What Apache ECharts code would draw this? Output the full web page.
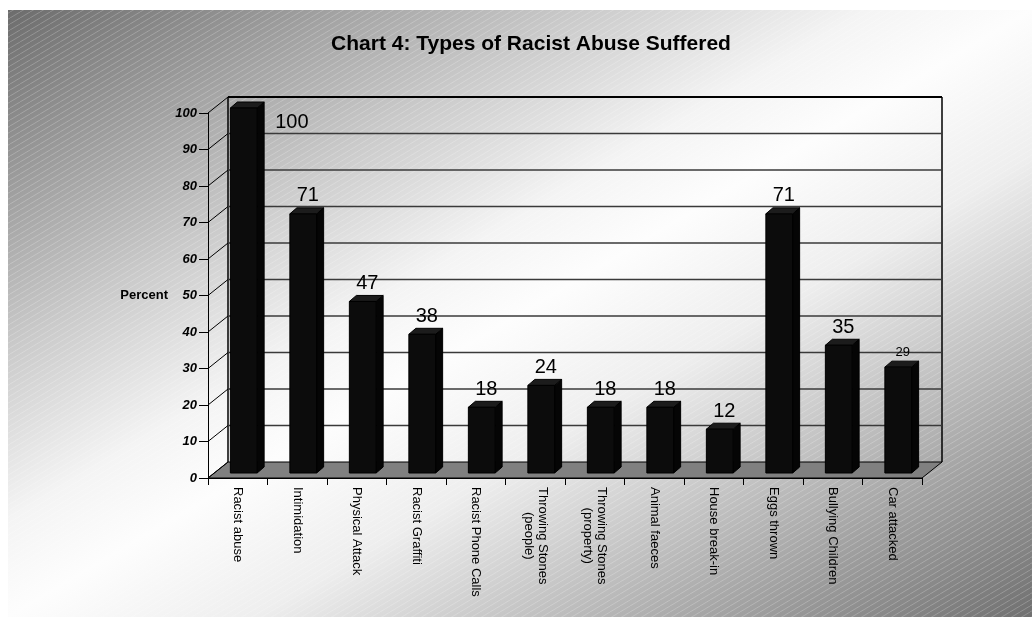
<!DOCTYPE html>
<html>
<head>
<meta charset="utf-8">
<script src="https://cdn.jsdelivr.net/npm/echarts@6/dist/echarts.min.js"></script>
<style>
  html, body { margin: 0; padding: 0; background: #ffffff; }
  #chart { width: 1032px; height: 617px; }
</style>
</head>
<body>
<div id="chart"></div>
<script>
// ---- data ----
const categories = [
  'Racist abuse', 'Intimidation', 'Physical Attack', 'Racist Graffiti',
  'Racist Phone Calls', 'Throwing Stones\n(people)', 'Throwing Stones\n(property)',
  'Animal faeces', 'House break-in', 'Eggs thrown', 'Bullying Children', 'Car attacked'
];
const percentValues = [100, 71, 47, 38, 18, 24, 18, 18, 12, 71, 35, 29];
const yTicks = [0, 10, 20, 30, 40, 50, 60, 70, 80, 90, 100];
const titleText = 'Chart 4: Types of Racist Abuse Suffered';
const yAxisName = 'Percent';

// ---- styling constants ----
const FONT = '"Liberation Sans", Arial, sans-serif';
const WALL_DX = 20, WALL_DY = -16;      // depth offset of back wall
const BAR_FX = 6, BAR_FY = -5;          // bar front face offset
const BAR_DX = 7, BAR_DY = -6;          // bar depth
const BAR_RATIO = 0.45;

// stripe pattern for the background
const stripe = document.createElement('canvas');
stripe.width = 10; stripe.height = 6;
(function () {
  const c = stripe.getContext('2d');
  c.strokeStyle = 'rgba(255,255,255,0.22)';
  c.lineWidth = 1;
  c.beginPath(); c.moveTo(0, 6); c.lineTo(10, 0); c.stroke();
})();

function renderFrame(params, api) {
  const cs = params.coordSys;
  const v = api.value(1);
  const y = api.coord([0, v])[1];
  const L = cs.x, R = cs.x + cs.width;
  const ch = [];
  if (v === 0) {
    const yTop = api.coord([0, yTicks[yTicks.length - 1]])[1];
    ch.push({
      type: 'polygon',
      shape: { points: [[L, y], [R, y], [R + WALL_DX, y + WALL_DY], [L + WALL_DX, y + WALL_DY]] },
      style: { fill: '#808080', stroke: '#000', lineWidth: 1 }
    });
    ch.push({ type: 'line', shape: { x1: L + WALL_DX, y1: yTop + WALL_DY, x2: L + WALL_DX, y2: y + WALL_DY },
      style: { stroke: '#000', lineWidth: 1.5 } });
    ch.push({ type: 'line', shape: { x1: R + WALL_DX, y1: yTop + WALL_DY, x2: R + WALL_DX, y2: y + WALL_DY },
      style: { stroke: '#000', lineWidth: 1.5 } });
  } else {
    ch.push({ type: 'line', shape: { x1: L + WALL_DX, y1: y + WALL_DY, x2: R + WALL_DX, y2: y + WALL_DY },
      style: { stroke: v === 100 ? '#000' : '#3a3a3a', lineWidth: v === 100 ? 2 : 1.5 } });
  }
  ch.push({ type: 'line', shape: { x1: L, y1: y, x2: L + WALL_DX, y2: y + WALL_DY },
    style: { stroke: '#000', lineWidth: 1 } });
  return { type: 'group', children: ch };
}

function renderBar(params, api) {
  const i = api.value(0);
  const v = api.value(1);
  const top = api.coord([i, v]);
  const base = api.coord([i, 0]);
  const band = api.size([1, 0])[0];
  const w = band * BAR_RATIO;
  const x0 = top[0] - w / 2 + BAR_FX, x1 = x0 + w;
  const yT = top[1] + BAR_FY, yB = base[1] + BAR_FY;
  const dark = { fill: '#0c0c0c', stroke: '#000', lineWidth: 1 };
  const ch = [
    { type: 'polygon', shape: { points: [[x1, yT], [x1 + BAR_DX, yT + BAR_DY], [x1 + BAR_DX, yB + BAR_DY], [x1, yB]] },
      style: { fill: '#050505', stroke: '#000', lineWidth: 1 } },
    { type: 'polygon', shape: { points: [[x0, yT], [x1, yT], [x1 + BAR_DX, yT + BAR_DY], [x0 + BAR_DX, yT + BAR_DY]] },
      style: { fill: '#1c1c1c', stroke: '#000', lineWidth: 1 } },
    { type: 'rect', shape: { x: x0, y: yT, width: w, height: yB - yT }, style: dark }
  ];
  const small = (i === percentValues.length - 1);
  if (v >= 95) {
    ch.push({ type: 'text', x: x1 + BAR_DX + 11, y: top[1] - 1,
      style: { text: String(v), fontSize: 20, fontFamily: FONT, fill: '#000', align: 'left', verticalAlign: 'top' } });
  } else {
    ch.push({ type: 'text', x: (x0 + x1) / 2 + BAR_DX / 2 + 1, y: yT + BAR_DY - 2,
      style: { text: String(v), fontSize: small ? 13 : 20, fontFamily: FONT, fill: '#000', align: 'center', verticalAlign: 'bottom' } });
  }
  return { type: 'group', children: ch };
}

const chart = echarts.init(document.getElementById('chart'), null, { renderer: 'canvas' });
chart.setOption({
  animation: false,
  backgroundColor: '#ffffff',
  title: {
    text: titleText, left: 526, top: 29, textAlign: 'center',
    textStyle: { fontFamily: FONT, fontSize: 21, fontWeight: 'bold', color: '#000' }
  },
  graphic: [
    { type: 'rect', z: -10, silent: true, shape: { x: 8, y: 10, width: 1024, height: 607 },
      style: { fill: new echarts.graphic.LinearGradient(0.24, -0.24, 0.76, 1.24, [
        { offset: 0, color: '#6c6c6c' }, { offset: 0.28, color: '#cacaca' }, { offset: 0.42, color: '#f4f4f4' },
        { offset: 0.5, color: '#fdfdfd' }, { offset: 0.62, color: '#eeeeee' }, { offset: 1, color: '#707070' }
      ]) } },
    { type: 'rect', z: -9, silent: true, shape: { x: 8, y: 10, width: 1024, height: 607 },
      style: { fill: { image: stripe, repeat: 'repeat' } } }
  ],
  grid: { left: 208, right: 110, top: 113, bottom: 139, containLabel: false, outerBoundsMode: 'none' },
  xAxis: {
    type: 'category', data: categories,
    axisLine: { show: true, lineStyle: { color: '#000', width: 1 } },
    axisTick: { show: true, length: 7, interval: 0, lineStyle: { color: '#000' } },
    axisLabel: {
      interval: 0, rotate: -90, margin: 9, color: '#000', fontFamily: FONT, fontSize: 13,
      formatter: function (s) { return s.split('\n').map(function (p) { return '{c|' + p + '}'; }).join('\n'); },
      rich: { c: { align: 'center', fontFamily: FONT, fontSize: 13, color: '#000', lineHeight: 14 } }
    },
    splitLine: { show: false }
  },
  yAxis: {
    type: 'value', min: 0, max: 100, interval: 10,
    name: yAxisName, nameLocation: 'middle', nameGap: 40, nameRotate: 0,
    nameTextStyle: { fontFamily: FONT, fontSize: 13, fontWeight: 'bold', color: '#000', align: 'right', verticalAlign: 'middle' },
    axisLine: { show: true, lineStyle: { color: '#000', width: 1 } },
    axisTick: { show: true, length: 9, lineStyle: { color: '#000' } },
    axisLabel: { margin: 11, color: '#000', fontFamily: FONT, fontSize: 13, fontWeight: 'bold', fontStyle: 'italic' },
    splitLine: { show: false }
  },
  series: [
    { type: 'custom', name: 'frame', z: 1, silent: true, renderItem: renderFrame,
      data: yTicks.map(function (t) { return [0, t]; }) },
    { type: 'custom', name: 'Percent', z: 3, renderItem: renderBar,
      data: percentValues.map(function (v, i) { return [i, v]; }) }
  ]
});
</script>
</body>
</html>
